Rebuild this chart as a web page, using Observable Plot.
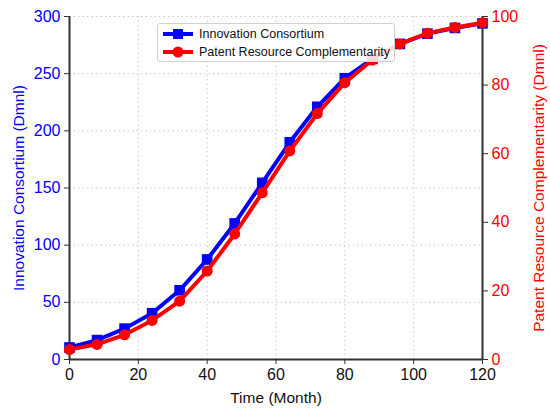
<!DOCTYPE html>
<html>
<head>
<meta charset="utf-8">
<script src="https://cdn.jsdelivr.net/npm/d3@7"></script>
<script src="https://cdn.jsdelivr.net/npm/@observablehq/plot@0.6"></script>
<style>
  body { margin: 0; background: #fff; font-family: "Liberation Sans", Arial, sans-serif; }
  #wrap { position: relative; width: 550px; height: 416px; }
  #legend { position: absolute; left: 157px; top: 23px; width: 236px; height: 37px;
    border: 1px solid #cfcfcf; border-radius: 3px; background: rgba(255,255,255,0.85);
    font-family: "Liberation Sans", Arial, sans-serif; font-size: 12.5px; color: #111; }
  .item { position: absolute; left: 5px; height: 18px; display: flex; align-items: center; white-space: nowrap; }
  .item span { margin-left: 6px; }
</style>
</head>
<body>
<div id="wrap"></div>
<script>
const months = [0, 8, 16, 24, 32, 40, 48, 56, 64, 72, 80, 88, 96, 104, 112, 120];
const consortium = [10.5, 17, 27, 40.5, 60.5, 87.5, 119, 154.5, 190, 221, 246, 263, 276, 285, 290, 294];
const complementarity = [2.9, 4.4, 7.2, 11.4, 17, 25.8, 36.6, 48.6, 60.8, 71.7, 80.7, 87.3, 92, 95.1, 96.8, 98.2];
const xTicks = [0, 20, 40, 60, 80, 100, 120];
const leftTicks = [0, 50, 100, 150, 200, 250, 300];
const rightTicks = [0, 20, 40, 60, 80, 100];
const names = ["Innovation Consortium", "Patent Resource Complementarity"];

const blue = months.map((t, i) => ({t, v: consortium[i]}));
const red = months.map((t, i) => ({t, v: complementarity[i] * 3})); // right axis mapped onto left scale (0-100 -> 0-300)

const spine = "#333";
const FS = 16;
const chart = Plot.plot({
  width: 550, height: 416,
  marginLeft: 69, marginRight: 68, marginTop: 16, marginBottom: 57,
  style: {fontFamily: "Liberation Sans, Arial, sans-serif", fontSize: "16px", background: "white"},
  x: {domain: [0, 120]},
  y: {domain: [0, 300]},
  marks: [
    Plot.gridX(xTicks, {stroke: "#c8c8c8", strokeOpacity: 1, strokeDasharray: "1.5,3"}),
    Plot.gridY(leftTicks, {stroke: "#c8c8c8", strokeOpacity: 1, strokeDasharray: "1.5,3"}),
    Plot.axisX({ticks: xTicks, tickSize: 5, stroke: spine, fill: "#111", tickPadding: 4, fontSize: FS,
      label: null}),
    Plot.axisY({anchor: "left", ticks: leftTicks, tickSize: 5, stroke: spine, fill: "blue", tickPadding: 4, fontSize: FS,
      label: null}),
    Plot.axisY({anchor: "right", ticks: rightTicks.map(d => d * 3), tickFormat: d => String(Math.round(d / 3)),
      tickSize: 5, stroke: spine, fill: "red", tickPadding: 4, fontSize: FS, label: null}),
    Plot.axisX({ticks: [], label: "Time (Month)", labelAnchor: "center", labelArrow: "none", labelOffset: 43, fontSize: 15.5, fill: "#111"}),
    Plot.axisY({anchor: "left", ticks: [], label: "Innovation Consortium (Dmnl)", labelAnchor: "center", labelArrow: "none", labelOffset: 57, fontSize: 15.5, fill: "blue"}),
    Plot.axisY({anchor: "right", ticks: [], label: "Patent Resource Complementarity (Dmnl)", labelAnchor: "center", labelArrow: "none", labelOffset: 61, fontSize: 15.5, fill: "red"}),
    Plot.ruleY([0], {stroke: spine, strokeWidth: 2}),
    Plot.ruleX([0, 120], {stroke: spine, strokeWidth: 2}),
    Plot.line(blue, {x: "t", y: "v", stroke: "blue", strokeWidth: 4}),
    Plot.dot(blue, {x: "t", y: "v", symbol: "square", r: 6, fill: "blue", stroke: "none"}),
    Plot.line(red, {x: "t", y: "v", stroke: "red", strokeWidth: 4}),
    Plot.dot(red, {x: "t", y: "v", symbol: "circle", r: 5.5, fill: "red", stroke: "none"})
  ]
});
const wrap = document.getElementById("wrap");
wrap.appendChild(chart);

const legend = document.createElement("div");
legend.id = "legend";
const sw = [
  `<svg width="30" height="14"><line x1="0" y1="7" x2="30" y2="7" stroke="blue" stroke-width="4"/><rect x="10" y="2" width="10" height="10" fill="blue"/></svg>`,
  `<svg width="30" height="14"><line x1="0" y1="7" x2="30" y2="7" stroke="red" stroke-width="4"/><circle cx="15" cy="7" r="5.5" fill="red"/></svg>`
];
names.forEach((n, i) => {
  const d = document.createElement("div");
  d.className = "item";
  d.style.top = (1 + i * 18) + "px";
  d.innerHTML = sw[i] + `<span>${n}</span>`;
  legend.appendChild(d);
});
wrap.appendChild(legend);
</script>
</body>
</html>
